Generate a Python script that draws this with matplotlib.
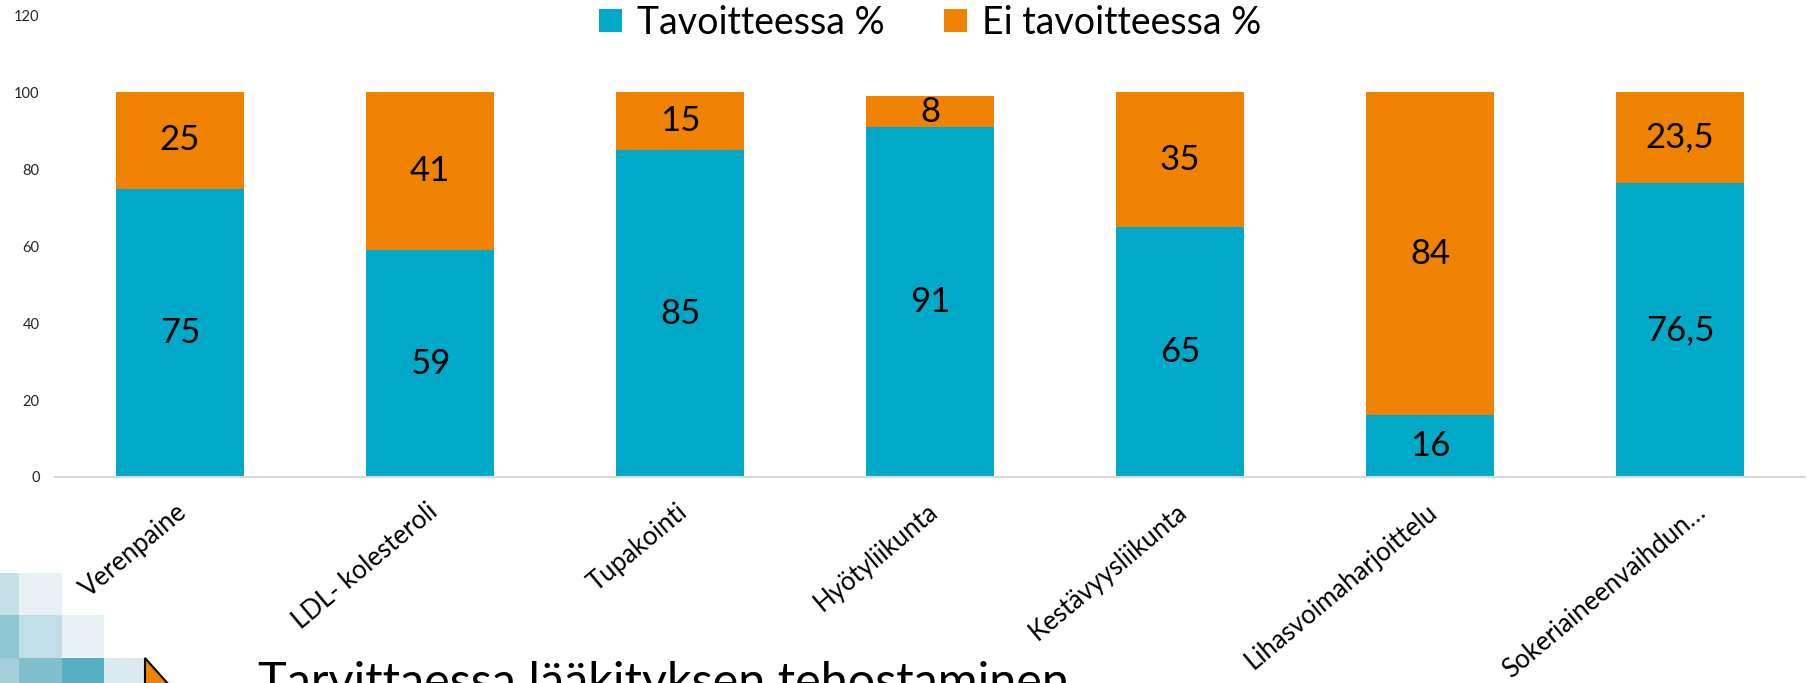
import matplotlib
matplotlib.use("Agg")
import matplotlib.pyplot as plt
from matplotlib.patches import Rectangle, Polygon, Patch
from matplotlib.transforms import ScaledTranslation

# ---- data ----
categories = ["Verenpaine", "LDL- kolesteroli", "Tupakointi", "Hyötyliikunta",
              "Kestävyysliikunta", "Lihasvoimaharjoittelu", "Sokeriaineenvaihdun…"]
tavoitteessa = [75, 59, 85, 91, 65, 16, 76.5]
ei_tavoitteessa = [25, 41, 15, 8, 35, 84, 23.5]
series_names = ["Tavoitteessa %", "Ei tavoitteessa %"]
y_ticks = [0, 20, 40, 60, 80, 100, 120]
footer_text = "Tarvittaessa lääkityksen tehostaminen"

TEAL = "#01A9C8"
ORANGE = "#EF8201"
FONT = ["Lato", "DejaVu Sans"]
plt.rcParams["font.family"] = FONT

W, H = 1810, 683
fig = plt.figure(figsize=(W / 100, H / 100), dpi=100)
fig.patch.set_facecolor("white")


def fx(px):
    return px / W


def fy(py):
    return 1 - py / H


ax_left, ax_right, ax_top, ax_bottom = 55, 1805, 15.4, 477
ax = fig.add_axes([fx(ax_left), fy(ax_bottom), fx(ax_right - ax_left), (ax_bottom - ax_top) / H])

x = list(range(len(categories)))
bw = 0.515
b1 = ax.bar(x, tavoitteessa, width=bw, color=TEAL, label=series_names[0], zorder=2)
b2 = ax.bar(x, ei_tavoitteessa, width=bw, bottom=tavoitteessa, color=ORANGE,
            label=series_names[1], zorder=2)


def fmt(v):
    s = ("%g" % v)
    return s.replace(".", ",")


ax.bar_label(b1, labels=[fmt(v) for v in tavoitteessa], label_type="center", fontsize=25, color="black")
ax.bar_label(b2, labels=[fmt(v) for v in ei_tavoitteessa], label_type="center", fontsize=25, color="black")

ax.set_xlim(-0.5, len(categories) - 0.5)
ax.set_ylim(0, 120)
ax.set_yticks(y_ticks)
ax.set_yticklabels([str(t) for t in y_ticks], fontsize=10.5, color="#262626")
ax.tick_params(axis="y", length=0, pad=11)
ax.set_xticks(x)
ax.set_xticklabels(categories, rotation=40, ha="right", va="top", rotation_mode="anchor",
                   fontsize=18.5, color="black")
ax.tick_params(axis="x", length=0, pad=16)
shifts_px = [-4, -4, -4, -4, -4, -4, 14]
for lab, sh in zip(ax.get_xticklabels(), shifts_px):
    lab.set_transform(lab.get_transform() + ScaledTranslation(sh / 100, 0, fig.dpi_scale_trans))

for s in ["top", "right", "left"]:
    ax.spines[s].set_visible(False)
ax.spines["bottom"].set_color("#d9d9d9")
ax.spines["bottom"].set_linewidth(1.5)
ax.set_facecolor("none")

# legend
handles = [Patch(facecolor=TEAL), Patch(facecolor=ORANGE)]
fig.legend(handles, series_names, loc="upper center", bbox_to_anchor=(fx(930), fy(1)),
           ncol=2, frameon=False, fontsize=27, handlelength=0.6, handleheight=0.6,
           handletextpad=0.4, columnspacing=1.6, borderaxespad=0, borderpad=0.1)

# decorative slide mosaic (bottom-left)
tiles = [
    (0, 573, 19, 42, "#c6e0e7"), (19, 573, 43, 42, "#e8f2f5"),
    (0, 615, 19, 43, "#8ec6d4"), (19, 615, 43, 43, "#c1dfe6"), (62, 615, 42, 43, "#e9f2f5"),
    (0, 658, 19, 30, "#a3ceda"), (19, 658, 43, 30, "#80bfcd"), (62, 658, 42, 30, "#58b0c3"),
    (104, 658, 41, 30, "#d9eaf0"),
]
for (tx, ty, tw, th, c) in tiles:
    fig.add_artist(Rectangle((fx(tx), fy(ty + th)), fx(tw), th / H, transform=fig.transFigure,
                             facecolor=c, edgecolor="none", zorder=0))
tri = Polygon([(fx(145), fy(658)), (fx(178), fy(695)), (fx(145), fy(732))], closed=True,
              transform=fig.transFigure, facecolor=ORANGE, edgecolor="black", linewidth=1.5, zorder=1)
fig.add_artist(tri)

fig.text(fx(258), fy(697), footer_text, fontsize=35, ha="left", va="baseline", color="black")

fig.savefig("out.png", dpi=100)
